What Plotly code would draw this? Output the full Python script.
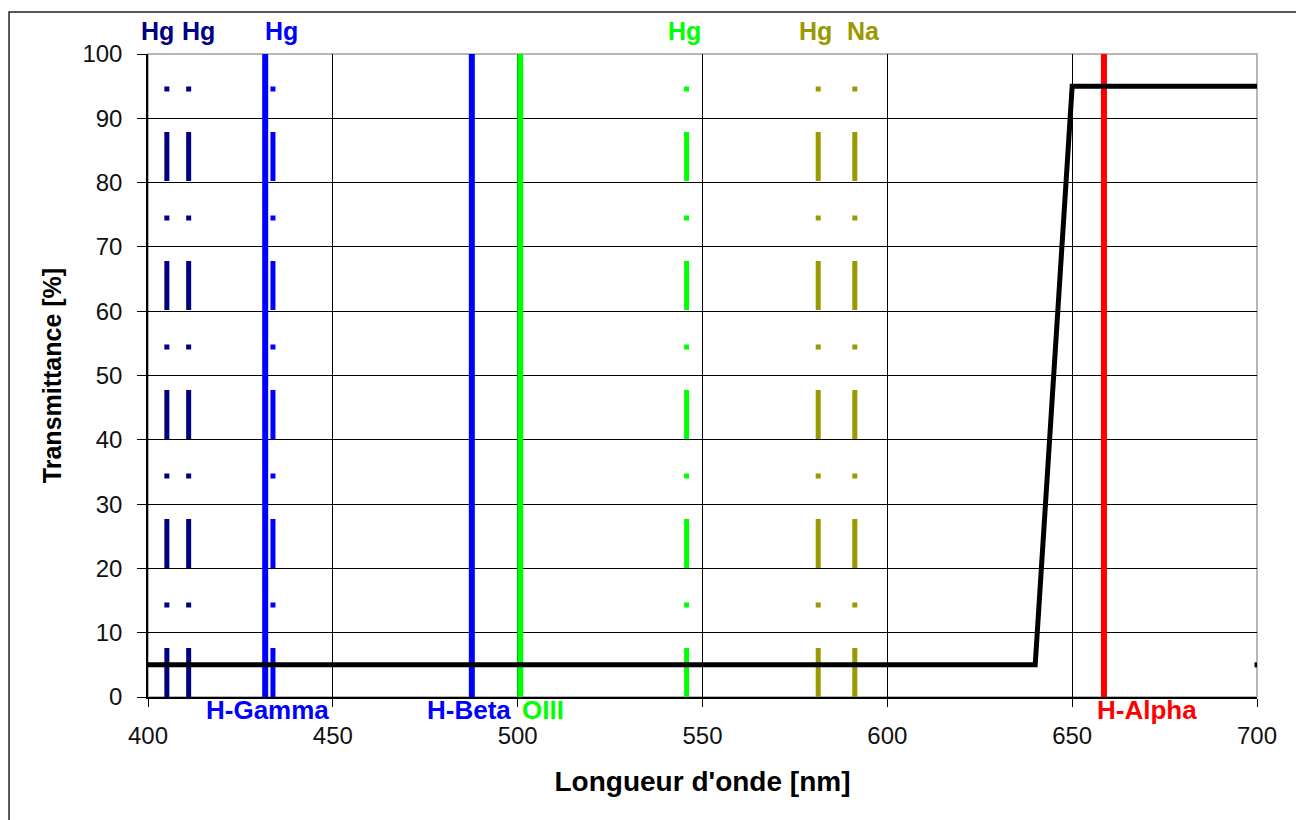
import plotly.graph_objects as go

# ---- data ----
curve_x = [400, 640, 650, 700]
curve_y = [5, 5, 95, 95]
end_mark_x = [700]
end_mark_y = [5]

# dashed (lamp) lines: Hg / Na
lamp_names = ["Hg", "Hg", "Hg", "Hg", "Hg", "Na"]
lamp_wl = [405.1, 411.0, 433.8, 545.7, 581.3, 591.2]
lamp_colors = ["#000080", "#000080", "#0000FF", "#00FF00", "#999900", "#999900"]

# solid (emission) lines
emis_names = ["H-Gamma", "H-Beta", "OIII", "H-Alpha"]
emis_wl = [431.7, 487.6, 500.7, 658.6]
emis_colors = ["#0000FF", "#0000FF", "#00FF00", "#FF0000"]

line_span = [0, 100]

x_ticks = [400, 450, 500, 550, 600, 650, 700]
y_ticks = [0, 10, 20, 30, 40, 50, 60, 70, 80, 90, 100]

# label placement (layout)
top_label_x = [402.6, 413.7, 436.0, 545.0, 580.7, 593.5]
bottom_label_x = [432.2, 486.9, 506.8, 670.3]

FONT = "Liberation Sans, Arial, sans-serif"

fig = go.Figure()

for wl, c in zip(lamp_wl, lamp_colors):
    fig.add_trace(go.Scatter(
        x=[wl, wl], y=line_span, mode="lines",
        line=dict(color=c, width=5, dash="49px,40.5px,5px,34.5px"),
        hoverinfo="skip", showlegend=False))

for wl, c in zip(emis_wl, emis_colors):
    fig.add_trace(go.Scatter(
        x=[wl, wl], y=line_span, mode="lines",
        line=dict(color=c, width=6),
        hoverinfo="skip", showlegend=False))

fig.add_trace(go.Scatter(
    x=curve_x, y=curve_y, mode="lines",
    line=dict(color="black", width=5),
    hoverinfo="skip", showlegend=False))

fig.add_trace(go.Scatter(
    x=end_mark_x, y=end_mark_y, mode="markers",
    marker=dict(color="black", symbol="square", size=5),
    hoverinfo="skip", showlegend=False))

# labels
for name, xx, c in zip(lamp_names, top_label_x, lamp_colors):
    fig.add_annotation(x=xx, y=1.0, xref="x", yref="paper", yshift=23,
                       text="<b>%s</b>" % name, showarrow=False,
                       xanchor="center", yanchor="middle",
                       font=dict(family=FONT, size=25, color=c))

for name, xx, c in zip(emis_names, bottom_label_x, emis_colors):
    fig.add_annotation(x=xx, y=0, xref="x", yref="paper", yshift=-13,
                       text="<b>%s</b>" % name, showarrow=False,
                       xanchor="center", yanchor="middle",
                       font=dict(family=FONT, size=26, color=c))

# plot area frame (gray) and outer frame
fig.add_shape(type="rect", xref="paper", yref="paper", x0=0, y0=0, x1=1, y1=1,
              line=dict(color="#a0a0a0", width=1.5), layer="below")
fig.add_shape(type="rect", xref="paper", yref="paper",
              x0=-0.1253, y0=-0.21, x1=1.037, y1=1.0653,
              line=dict(color="#222222", width=1.5), layer="below")

fig.update_layout(
    width=1296, height=812,
    margin=dict(l=140, r=47, t=46, b=123),
    paper_bgcolor="white", plot_bgcolor="white",
    hovermode=False,
    font=dict(family=FONT, color="black"),
    xaxis=dict(range=[400, 700], tickvals=x_ticks, showgrid=True,
               gridcolor="black", gridwidth=1, zeroline=False,
               showline=True, linecolor="black", linewidth=1.5,
               ticks="outside", ticklen=8, tickcolor="black",
               ticklabelstandoff=8,
               tickfont=dict(size=24, family=FONT, color="#111111"),
               title=dict(text="<b>Longueur d'onde [nm]</b>",
                          font=dict(size=28, family=FONT), standoff=24),
               automargin=False),
    yaxis=dict(range=[0, 100], tickvals=y_ticks, showgrid=True,
               gridcolor="black", gridwidth=1, zeroline=False,
               showline=True, linecolor="black", linewidth=1.5,
               ticks="outside", ticklen=9, tickcolor="black",
               ticklabelstandoff=10,
               tickfont=dict(size=24, family=FONT, color="#111111"),
               title=dict(text="<b>Transmittance [%]</b>",
                          font=dict(size=25, family=FONT), standoff=14),
               automargin=False),
)

fig.write_html("out.html")
